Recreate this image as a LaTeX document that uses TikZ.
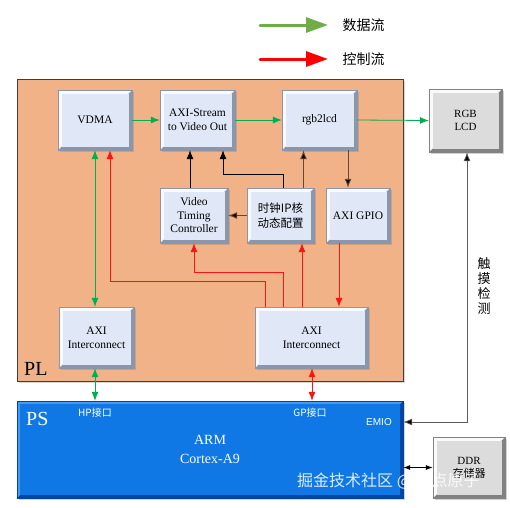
\documentclass[tikz,border=0pt]{standalone}
\usepackage{fontspec}
\setmainfont{Liberation Serif}
\newfontfamily\cjk{Noto Sans CJK SC}
\newfontfamily\sans{Liberation Sans}
\usetikzlibrary{arrows.meta,calc,shadows}
\definecolor{plfill}{RGB}{241,178,135}
\definecolor{plline}{RGB}{70,60,55}
\definecolor{bface}{RGB}{224,232,248}
\definecolor{blight}{RGB}{248,250,255}
\definecolor{bdark}{RGB}{140,150,170}
\definecolor{gface}{RGB}{220,220,220}
\definecolor{glight}{RGB}{250,250,250}
\definecolor{gdark}{RGB}{130,130,130}
\definecolor{psface}{RGB}{16,120,228}
\definecolor{pslight}{RGB}{70,155,240}
\definecolor{psdark}{RGB}{0,70,160}
\definecolor{dgreen}{RGB}{0,176,80}
\definecolor{lgreen}{RGB}{112,173,71}
\definecolor{dred}{RGB}{250,20,20}
\definecolor{brn}{RGB}{105,70,50}
\definecolor{lnk}{RGB}{90,90,90}
\tikzset{
  bevel/.style n args={4}{draw=#3, fill=#3, line width=0.4pt,
    drop shadow={shadow xshift=1.5pt, shadow yshift=-1.5pt, opacity=0.35},
    path picture={
      \coordinate (pNW) at (path picture bounding box.north west);
      \coordinate (pNE) at (path picture bounding box.north east);
      \coordinate (pSW) at (path picture bounding box.south west);
      \coordinate (pSE) at (path picture bounding box.south east);
      \fill[#2] (pNW) -- (pNE) -- ($(pNE)+(-#4,-#4)$) -- ($(pSW)+(#4,#4)$) -- (pSW) -- cycle;
      \fill[#1] ($(pNW)+(#4,-#4)$) rectangle ($(pSE)+(-#4,#4)$);}},
  blk/.style={bevel={bface}{blight}{bdark}{3.5pt}, align=center, inner sep=1pt, font=\fontsize{11.5}{13.5}\selectfont},
  gblk/.style={bevel={gface}{glight}{gdark}{3.5pt}, align=center, inner sep=1pt, font=\fontsize{11}{13}\selectfont},
  tip/.style={-{Latex[length=9pt,width=7pt]}},
  data/.style={draw=dgreen, line width=0.8pt, tip},
  ctrl/.style={draw=dred, line width=0.8pt, tip},
  blk2/.style={draw=black, line width=0.8pt, tip},
  brnarr/.style={draw=brn, line width=0.9pt, -{Latex[length=9pt,width=7pt,fill=black]}},
  both/.style={{Latex[length=9pt,width=7pt]}-{Latex[length=9pt,width=7pt]}},
  pstext/.style={text=white, inner sep=0pt},
}
\begin{document}
\begin{tikzpicture}[x=1pt,y=-1pt]
\useasboundingbox (0,0) rectangle (510,507);
% legend
\coordinate (lg1) at (260,25); \coordinate (lg2) at (328,25);
\coordinate (lr1) at (260,59); \coordinate (lr2) at (328,59);
\draw[draw=lgreen, line width=3pt, line cap=round, -{Triangle[length=22pt,width=15pt]}] (lg1) -- (lg2);
\draw[draw=red, line width=3pt, line cap=round, -{Triangle[length=22pt,width=15pt]}] (lr1) -- (lr2);
\node[font=\cjk\fontsize{14}{16}\selectfont, anchor=west] (ldata) at (339,25) {数据流};
\node[font=\cjk\fontsize{14}{16}\selectfont, anchor=west] (lctrl) at (339,59) {控制流};
% PL
\node[draw=plline, fill=plfill, line width=1pt, minimum width=386pt, minimum height=302pt,
  drop shadow={shadow xshift=1.5pt, shadow yshift=-1.5pt, opacity=0.3}, inner sep=0pt] (pl) at (210,230) {};
\node[font=\fontsize{20}{22}\selectfont, anchor=base west, inner sep=0pt] (pllab) at (24,375) {PL};
% PS
\node[bevel={psface}{pslight}{psdark}{3pt}, minimum width=386pt, minimum height=97pt, inner sep=0pt] (ps) at (210,449.5) {};
\node[pstext, font=\fontsize{20}{22}\selectfont, anchor=base west] (pslab) at (26,425) {PS};
\node[pstext, font=\cjk\fontsize{10}{12}\selectfont] (hp) at (95,413) {HP接口};
\node[pstext, font=\cjk\fontsize{10}{12}\selectfont] (gp) at (310,413) {GP接口};
\node[pstext, font=\sans\fontsize{10}{12}\selectfont] (emio) at (379,422) {EMIO};
\node[pstext, font=\fontsize{14}{16}\selectfont] (arm) at (210,440) {ARM};
\node[pstext, font=\fontsize{14}{16}\selectfont] (ctx) at (210,459) {Cortex-A9};
% blocks
\node[blk, minimum width=74pt, minimum height=60pt] (vdma) at (95,120) {VDMA};
\node[blk, minimum width=75pt, minimum height=60pt] (axis) at (197.5,120) {AXI-Stream\\to Video Out};
\node[blk, minimum width=75pt, minimum height=60pt] (rgb) at (319.5,120) {rgb2lcd};
\node[gblk, minimum width=73pt, minimum height=63pt] (lcd) at (465.5,120.5) {RGB\\LCD};
\node[blk, minimum width=68pt, minimum height=55pt] (vtc) at (194,215.5) {Video\\Timing\\Controller};
\node[blk, minimum width=67pt, minimum height=55pt, font=\cjk\fontsize{11.5}{15}\selectfont] (clk) at (280.5,215.5) {时钟IP核\\动态配置};
\node[blk, minimum width=64pt, minimum height=55pt] (gpio) at (358,215.5) {AXI GPIO};
\node[blk, minimum width=75pt, minimum height=61pt] (axl) at (96.5,337.5) {AXI\\Interconnect};
\node[blk, minimum width=113pt, minimum height=61pt] (axr) at (311.5,337.5) {AXI\\Interconnect};
\node[gblk, minimum width=72pt, minimum height=61pt] (ddr) at (469,467.5) {DDR\\\cjk 存储器};
% data flow
\draw[data] (vdma.east) -- (axis.west);
\draw[data] (axis.east) -- (rgb.west);
\draw[data] (rgb.east) -- (lcd.west);
\draw[data, both] (vdma.south) -- (vdma.south |- axl.north);
\draw[data, both] ([xshift=-1.5pt]axl.south) -- ([xshift=-1.5pt]axl.south |- ps.north);
% control
\draw[ctrl] ([xshift=-46.5pt]axr.north) -- ++(0,-25) -| ([xshift=15pt]vdma.south);
\draw[ctrl] ([xshift=-28.5pt]axr.north) -- ++(0,-34) -| (vtc.south);
\draw[ctrl] ([xshift=-9.5pt]axr.north) -- ([xshift=-9.5pt]axr.north |- clk.south);
\draw[ctrl] ([xshift=-19pt]gpio.south) -- ([xshift=-19pt]gpio.south |- axr.north);
\draw[ctrl, both] ([xshift=0.5pt]axr.south) -- ([xshift=0.5pt]axr.south |- ps.north);
% black / brown
\draw[blk2] ([xshift=-4pt]vtc.north) -- ([xshift=-4pt]vtc.north |- axis.south);
\draw[blk2] ([xshift=2.5pt]clk.north) -- ++(0,-13) -| ([xshift=25.5pt]axis.south);
\draw[brnarr] ([xshift=23pt]clk.north) -- ([xshift=23pt]clk.north |- rgb.south);
\draw[brnarr] (clk.west) -- (vtc.east);
\draw[brnarr] ([xshift=28.5pt]rgb.south) -- ([xshift=28.5pt]rgb.south |- gpio.north);
\draw[draw=lnk, line width=0.8pt, {Latex[length=9pt,width=7pt,fill=black]}-{Latex[length=9pt,width=7pt,fill=black]}] ([xshift=1.5pt]lcd.south) |- ([yshift=27.5pt]ps.east);
\draw[draw=black, line width=0.8pt, {Latex[length=7pt,width=5pt]}-{Latex[length=7pt,width=5pt]}] (ddr.west) -- (ddr.west -| ps.east);
\node[font=\cjk\fontsize{13}{15}\selectfont, align=center, inner sep=0pt] (touch) at (484,286) {触\\摸\\检\\测};
% watermark
\node[font=\cjk\fontsize{16}{18}\selectfont, text=white, opacity=0.85, anchor=west, inner sep=0pt] (wm) at (297,481) {掘金技术社区 @ 正点原子};
\end{tikzpicture}
\end{document}
